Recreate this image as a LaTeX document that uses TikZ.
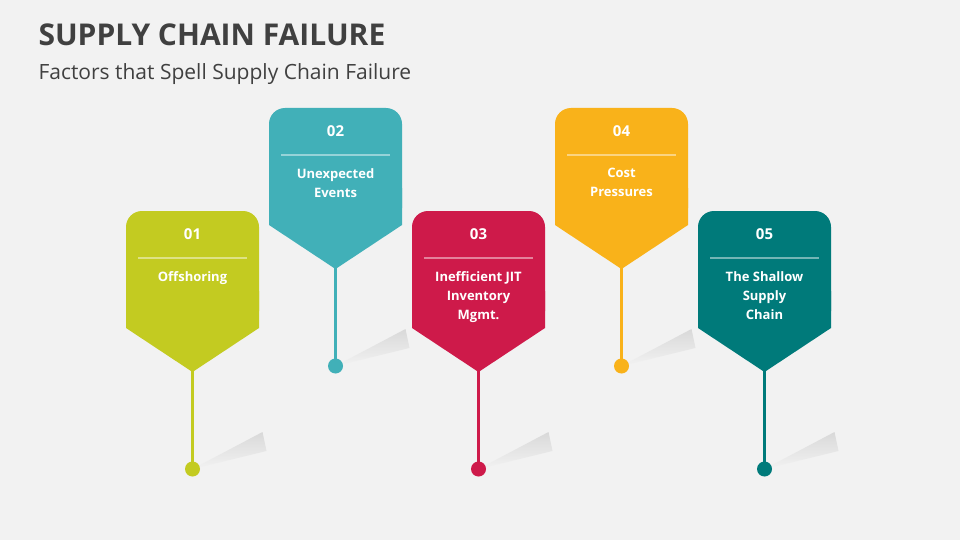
\documentclass[tikz,border=0pt]{standalone}
\usepackage{fontspec}
\setmainfont{Open Sans}
\definecolor{bg}{HTML}{F2F2F2}
\definecolor{titlec}{HTML}{404040}
\definecolor{cA}{HTML}{C3CB21}
\definecolor{cB}{HTML}{41B0B8}
\definecolor{cC}{HTML}{CE1A4A}
\definecolor{cD}{HTML}{F9B21A}
\definecolor{cE}{HTML}{007A7A}
\begin{document}
\begin{tikzpicture}[x=1pt,y=-1pt,
  num/.style={text=white,font=\bfseries\fontsize{15}{18}\selectfont},
  lbl/.style={text=white,font=\bfseries\fontsize{13}{19}\selectfont,align=center,anchor=north}]
\fill[bg] (0,0) rectangle (960,540);
\useasboundingbox (0,0) rectangle (960,540);
\node[anchor=west,text=titlec,font=\bfseries\fontsize{30}{36}\selectfont] (title) at (35,35) {SUPPLY CHAIN FAILURE};
\node[anchor=west,text=titlec,font=\fontsize{21}{24}\selectfont] (sub) at (35,74) {Factors that Spell Supply Chain Failure};
\foreach \x/\t/\c/\n/\txt [count=\i] in {126/211/cA/01/Offshoring, 269/108/cB/02/{Unexpected\\Events}, 412/211/cC/03/{Inefficient JIT\\Inventory\\Mgmt.}, 555/108/cD/04/{Cost\\Pressures}, 698/211/cE/05/{The Shallow\\Supply\\Chain}}{
  \pgfmathsetmacro{\cx}{\x+66.5}
  \shade[left color=black!15,right color=bg,shading angle=0]
    (\cx,\t+258) -- (\cx+70,\t+221) -- (\cx+74,\t+240) -- cycle;
  \draw[\c,line width=3pt] (\cx,\t+160) -- (\cx,\t+258);
  \fill[\c] (\cx,\t+258) circle (7.5);
  \fill[\c,rounded corners=16pt] (\x,\t+100) -- (\x,\t) -- (\x+133,\t) -- (\x+133,\t+100);
  \fill[\c] (\x,\t+80) -- (\x+133,\t+80) -- (\x+133,\t+117) -- (\cx,\t+161) -- (\x,\t+117) -- cycle;
  \draw[white,opacity=0.45,line width=2.5pt] (\x+12,\t+47) -- (\x+121,\t+47);
  \node[num] (n\i) at (\cx,\t+23) {\n};
  \node[lbl] (t\i) at (\cx,\t+57) {\txt};
}
\end{tikzpicture}
\end{document}
